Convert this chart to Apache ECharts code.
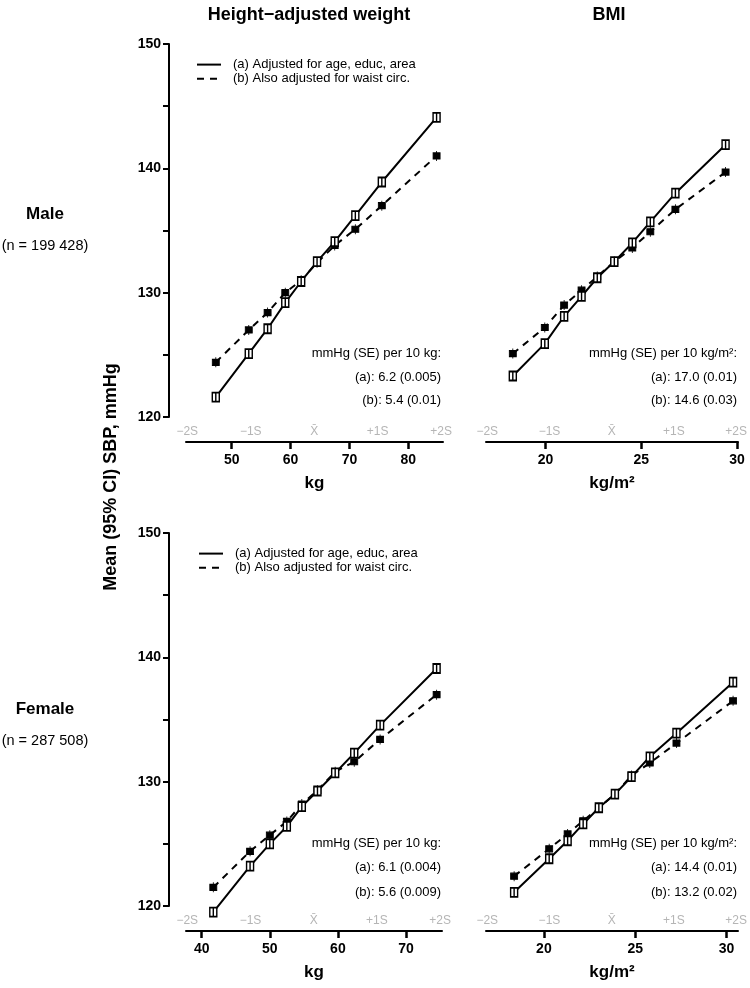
<!DOCTYPE html>
<html>
<head>
<meta charset="utf-8">
<script src="https://cdn.jsdelivr.net/npm/echarts@6/dist/echarts.min.js"></script>
<style>
  html, body { margin: 0; padding: 0; background: #fff; }
  #chart { width: 750px; height: 988px; }
</style>
</head>
<body>
<div id="chart"></div>
<script>
// data: mean SBP (mmHg) per fifth-of-decile group
const seriesNames = ['(a) Adjusted for age, educ, area', '(b) Also adjusted for waist circ.']
const sdLabels = ['\u22122S', '\u22121S', 'X\u0304', '+1S', '+2S']
const sdValues = [-2, -1, 0, 1, 2]

// male, height-adjusted weight (kg)
const maleWeightX = [47.3, 52.9, 56.1, 59.1, 61.8, 64.5, 67.5, 71.0, 75.5, 84.8]
const maleWeightA = [121.6, 125.1, 127.1, 129.2, 130.9, 132.5, 134.1, 136.2, 138.9, 144.1]
const maleWeightB = [124.4, 127.0, 128.4, 130.0, 131.0, 132.4, 133.8, 135.1, 137.0, 141.0]
const maleWeightTicks = [50, 60, 70, 80]

// male, BMI (kg/m2)
const maleBmiX = [18.29, 19.96, 20.97, 21.88, 22.70, 23.59, 24.53, 25.47, 26.78, 29.40]
const maleBmiA = [123.3, 125.9, 128.1, 129.7, 131.2, 132.5, 134.0, 135.7, 138.0, 141.9]
const maleBmiB = [125.1, 127.2, 129.0, 130.2, 131.3, 132.5, 133.6, 134.9, 136.7, 139.7]
const maleBmiTicks = [20, 25, 30]

// female, height-adjusted weight (kg)
const femaleWeightX = [41.7, 47.1, 50.0, 52.5, 54.7, 57.0, 59.6, 62.4, 66.2, 74.5]
const femaleWeightA = [119.5, 123.2, 125.0, 126.4, 128.0, 129.25, 130.7, 132.3, 134.55, 139.1]
const femaleWeightB = [121.5, 124.4, 125.7, 126.8, 128.2, 129.3, 130.8, 131.6, 133.4, 137.0]
const femaleWeightTicks = [40, 50, 60, 70]

// female, BMI (kg/m2)
const femaleBmiX = [18.37, 20.29, 21.30, 22.15, 23.01, 23.89, 24.80, 25.80, 27.26, 30.36]
const femaleBmiA = [121.1, 123.8, 125.25, 126.6, 127.9, 129.0, 130.4, 132.0, 133.9, 138.0]
const femaleBmiB = [122.4, 124.6, 125.8, 126.85, 127.9, 129.0, 130.5, 131.5, 133.1, 136.5]
const femaleBmiTicks = [20, 25, 30]

// slope annotations
const maleWeightNote = ['mmHg (SE) per 10 kg:', '(a): 6.2 (0.005)', '(b): 5.4 (0.01)']
const maleBmiNote = ['mmHg (SE) per 10 kg/m\u00b2:', '(a): 17.0 (0.01)', '(b): 14.6 (0.03)']
const femaleWeightNote = ['mmHg (SE) per 10 kg:', '(a): 6.1 (0.004)', '(b): 5.6 (0.009)']
const femaleBmiNote = ['mmHg (SE) per 10 kg/m\u00b2:', '(a): 14.4 (0.01)', '(b): 13.2 (0.02)']

const FONT = "'Liberation Sans', Arial, Helvetica, sans-serif"

// panel layout
const panels = [
  { x: maleWeightX, a: maleWeightA, b: maleWeightB, ticks: maleWeightTicks, min: 42.24, max: 85.89,
    unit: 'kg', grid: { left: 186, top: 44, width: 257, height: 373 }, yAxis: true, note: maleWeightNote, noteX: 441, noteY: [353, 377, 400] },
  { x: maleBmiX, a: maleBmiA, b: maleBmiB, ticks: maleBmiTicks, min: 16.89, max: 30.05,
    unit: 'kg/m\u00b2', grid: { left: 486, top: 44, width: 257, height: 373 }, yAxis: false, note: maleBmiNote, noteX: 737, noteY: [353, 377, 400] },
  { x: femaleWeightX, a: femaleWeightA, b: femaleWeightB, ticks: femaleWeightTicks, min: 37.69, max: 75.29,
    unit: 'kg', grid: { left: 186, top: 533, width: 256, height: 373 }, yAxis: true, note: femaleWeightNote, noteX: 441, noteY: [843, 867, 892] },
  { x: femaleBmiX, a: femaleBmiA, b: femaleBmiB, ticks: femaleBmiTicks, min: 16.83, max: 30.63,
    unit: 'kg/m\u00b2', grid: { left: 486, top: 533, width: 252, height: 373 }, yAxis: false, note: femaleBmiNote, noteX: 737, noteY: [843, 867, 892] }
]

const symA = 'path://M0,0H8V10H0ZM4,0V10'
const symB = 'path://M0,2H7V8H0ZM3.5,0V10'

const grid = []
const xAxis = []
const yAxis = []
const series = []
const graphic = []

panels.forEach((p, i) => {
  grid.push(p.grid)
  // value axis
  xAxis.push({
    gridIndex: i, type: 'value', min: p.min, max: p.max, offset: 25,
    axisLine: { show: true, onZero: false, lineStyle: { color: '#000', width: 2 } },
    axisTick: { show: true, length: 7, lineStyle: { color: '#000', width: 2.5 }, customValues: p.ticks },
    axisLabel: { customValues: p.ticks, color: '#000', fontWeight: 'bold', fontSize: 14, fontFamily: FONT, margin: 11 },
    splitLine: { show: false },
    name: p.unit, nameLocation: 'middle', nameGap: 33,
    nameTextStyle: { color: '#000', fontWeight: 'bold', fontSize: 17, fontFamily: FONT }
  })
  // SD marks above the axis line
  xAxis.push({
    gridIndex: i, type: 'value', min: -2.02, max: 2.03, position: 'bottom', offset: 25,
    axisLine: { show: false, onZero: false }, axisTick: { show: false }, splitLine: { show: false },
    axisLabel: {
      inside: true, margin: 4, customValues: sdValues, color: '#b5b5b5', fontSize: 12, fontFamily: FONT,
      formatter: v => sdLabels[Math.round(v) + 2]
    }
  })
  yAxis.push({
    gridIndex: i, type: 'value', min: 120, max: 150, interval: 5, offset: 17, show: p.yAxis,
    axisLine: { show: true, onZero: false, lineStyle: { color: '#000', width: 2 } },
    axisTick: { show: true, length: 6, lineStyle: { color: '#000', width: 2 } },
    axisLabel: { color: '#000', fontWeight: 'bold', fontSize: 14, fontFamily: FONT, margin: 8,
      formatter: v => (v % 10 === 0 ? String(v) : '') },
    splitLine: { show: false }
  })
  series.push({
    type: 'line', name: seriesNames[1], xAxisIndex: 2 * i, yAxisIndex: i, clip: false,
    data: p.x.map((x, k) => [x, p.b[k]]),
    symbol: symB, symbolSize: [7, 10],
    lineStyle: { color: '#000', width: 2, type: [7, 6] },
    itemStyle: { color: '#000', borderColor: '#000', borderWidth: 1 },
    emphasis: { disabled: true }, z: 2
  })
  series.push({
    type: 'line', name: seriesNames[0], xAxisIndex: 2 * i, yAxisIndex: i, clip: false,
    data: p.x.map((x, k) => [x, p.a[k]]),
    symbol: symA, symbolSize: [7, 9],
    lineStyle: { color: '#000', width: 2, type: 'solid' },
    itemStyle: { color: '#fff', borderColor: '#000', borderWidth: 1.6 },
    emphasis: { disabled: true }, z: 3
  })
  p.note.forEach((t, k) => {
    graphic.push({ type: 'text', x: p.noteX, y: p.noteY[k],
      style: { text: t, textAlign: 'right', textVerticalAlign: 'middle', font: '13px ' + FONT, fill: '#000' } })
  })
})

// column titles, row labels, y title
const textItem = (x, y, text, font, extra) => Object.assign({ type: 'text', x, y,
  style: { text, textAlign: 'center', textVerticalAlign: 'middle', font, fill: '#000' } }, extra || {})
graphic.push(textItem(309, 15, 'Height\u2212adjusted weight', 'bold 18px ' + FONT))
graphic.push(textItem(609, 15, 'BMI', 'bold 18px ' + FONT))
graphic.push(textItem(45, 214, 'Male', 'bold 17px ' + FONT))
graphic.push(textItem(45, 246, '(n = 199 428)', '14.5px ' + FONT))
graphic.push(textItem(45, 709, 'Female', 'bold 17px ' + FONT))
graphic.push(textItem(45, 741, '(n = 287 508)', '14.5px ' + FONT))
graphic.push(textItem(111, 477, 'Mean (95% CI) SBP, mmHg', 'bold 18px ' + FONT, { rotation: Math.PI / 2 }))

const legendBase = {
  orient: 'vertical', data: seriesNames, selectedMode: false,
  itemWidth: 24, itemHeight: 14, itemGap: 1,
  itemStyle: { opacity: 0 },
  textStyle: { color: '#000', fontSize: 13, fontFamily: FONT, padding: [0, 0, 0, 7] }
}

const chart = echarts.init(document.getElementById('chart'))
chart.setOption({
  animation: false,
  backgroundColor: '#fff',
  legend: [
    Object.assign({ left: 191, top: 53 }, legendBase),
    Object.assign({ left: 193, top: 542 }, legendBase)
  ],
  grid, xAxis, yAxis, series, graphic
})
</script>
</body>
</html>
